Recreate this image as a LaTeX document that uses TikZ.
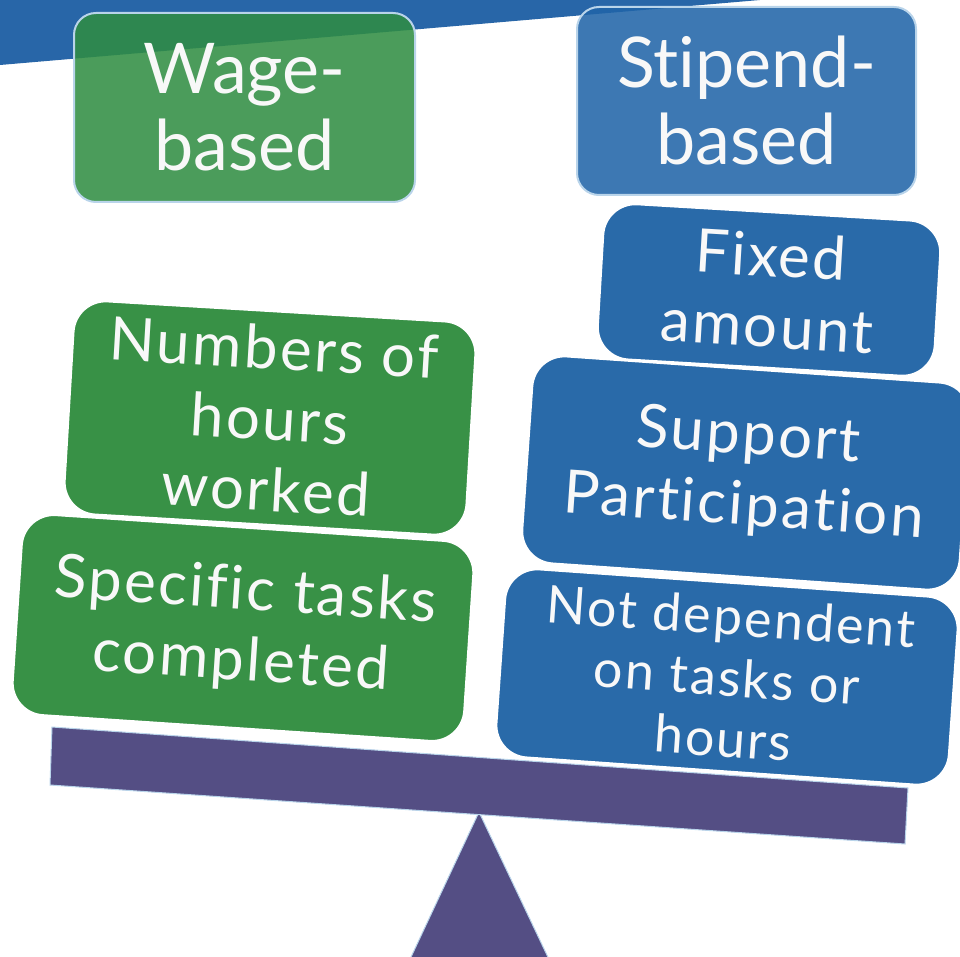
\documentclass[tikz,border=0pt]{standalone}
\usepackage{fontspec}
\setmainfont[Ligatures={NoCommon}]{Lato}
\newfontfamily\boxfont[LetterSpace=4,Ligatures={NoCommon}]{Lato}
\definecolor{bandblue}{RGB}{40,102,168}
\definecolor{topgreen}{RGB}{48,141,67}
\definecolor{topblue}{RGB}{32,100,168}
\definecolor{edgeblue}{RGB}{185,212,234}
\definecolor{boxgreen}{RGB}{56,145,70}
\definecolor{boxblue}{RGB}{41,106,169}
\definecolor{beamcol}{RGB}{84,78,132}
\definecolor{textwhite}{RGB}{248,248,248}
\begin{document}
\begin{tikzpicture}[x=1pt,y=-1pt,
  topbox/.style={rectangle, rounded corners=22pt, draw=edgeblue, line width=2pt,
    fill opacity=0.87, text opacity=1, text=textwhite, align=center,
    font=\fontsize{70}{77}\selectfont, inner sep=0pt},
  midbox/.style={rectangle, rounded corners=32pt, draw=white, line width=1.5pt,
    text=textwhite, align=center, font=\boxfont\fontsize{60}{71}\selectfont, inner sep=0pt},
  greenbox/.style={midbox, fill=boxgreen},
  bluebox/.style={midbox, fill=boxblue},
  beamstyle/.style={fill=beamcol, draw=edgeblue, line width=1pt}
]
\useasboundingbox (0,0) rectangle (960,957);
\clip (0,0) rectangle (960,957);
% top band
\fill[bandblue] (-5,-5) -- (0,65) -- (760,0) -- (760,-5) -- cycle;
% top headings
\node[topbox, fill=topgreen, minimum width=341pt, minimum height=189pt] (wage) at (244.5,107.5) {Wage-\\based};
\node[topbox, fill=topblue, minimum width=339pt, minimum height=188pt] (stipend) at (746.5,101) {Stipend-\\based};
% fulcrum
\fill[beamstyle] (479,812) -- (404,972) -- (555,972) -- cycle;
% beam
\filldraw[beamstyle] (52,727) -- (908,788) -- (905,844) -- (50,785) -- cycle;
% wage items
\node[greenbox, rotate=-3.4, minimum width=402pt, minimum height=213pt] (hours) at (270,418) {Numbers of\\hours\\worked};
\node[greenbox, rotate=-3.8, minimum width=452pt, minimum height=200pt] (tasks) at (243,628) {Specific tasks\\completed};
% stipend items
\node[bluebox, rotate=-3.4, minimum width=337pt, minimum height=155pt] (fixed) at (769,290) {Fixed\\amount};
\node[bluebox, rotate=-4, minimum width=438pt, minimum height=207pt] (support) at (746,473) {Support\\Participation};
\node[bluebox, rotate=-4, minimum width=453pt, minimum height=188pt, font=\boxfont\fontsize{52}{61}\selectfont] (notdep) at (727,677) {Not dependent\\on tasks or\\hours};
\end{tikzpicture}
\end{document}
